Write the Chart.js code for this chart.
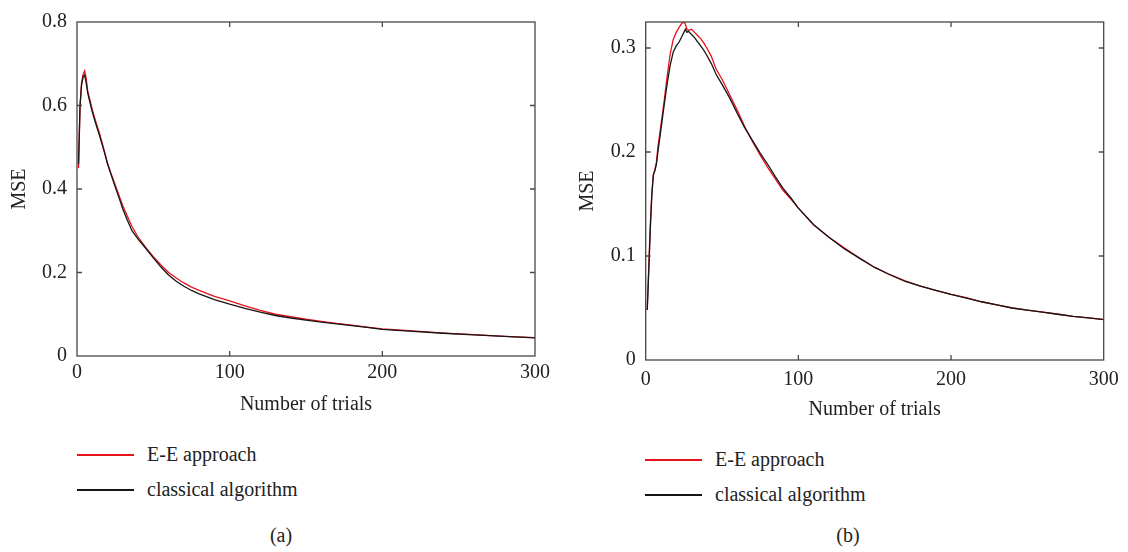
<!DOCTYPE html>
<html>
<head>
<meta charset="utf-8">
<script src="https://cdn.jsdelivr.net/npm/chart.js@4.4.1/dist/chart.umd.min.js"></script>
<style>
  html, body { margin: 0; padding: 0; background: #fff; }
  body { width: 1128px; height: 552px; position: relative; overflow: hidden; font-family: "Liberation Serif", "DejaVu Serif", serif; color: #222; }
  canvas { position: absolute; top: 0; }
  #cA { left: 0; }
  #cB { left: 568px; }
  .legend { position: absolute; font-size: 20px; }
  .legend .row { height: 35px; display: flex; align-items: center; white-space: nowrap; }
  .legend .ln { display: inline-block; width: 57px; height: 2px; margin-right: 13px; }
  .cap { position: absolute; font-size: 20px; transform: translate(-50%, -50%); }
</style>
</head>
<body>
<canvas id="cA" width="560" height="430"></canvas>
<canvas id="cB" width="560" height="430"></canvas>
<div class="legend" id="legA" style="left:77px; top:437px;"></div>
<div class="legend" id="legB" style="left:645px; top:442px;"></div>
<div class="cap" style="left:281px; top:535px;">(a)</div>
<div class="cap" style="left:848px; top:535px;">(b)</div>
<script>
// ---------- data ----------
const seriesNames = ["E-E approach", "classical algorithm"];
const xTicks = [0, 100, 200, 300];
const yTicksA = [0, 0.2, 0.4, 0.6, 0.8];
const yTicksB = [0, 0.1, 0.2, 0.3];

// panel (a)
const trialsA = [1, 2, 3, 4, 5, 6, 7, 8, 10, 12, 15, 18, 20, 22, 25, 28, 30, 33, 36, 40, 45, 50, 55, 60, 65, 70, 75, 80, 90, 100, 110, 120, 130, 140, 150, 160, 170, 180, 190, 200, 220, 240, 260, 280, 300];
const eeA = [0.45, 0.60, 0.655, 0.675, 0.683, 0.665, 0.635, 0.62, 0.59, 0.565, 0.53, 0.49, 0.462, 0.44, 0.41, 0.38, 0.36, 0.335, 0.31, 0.285, 0.26, 0.238, 0.218, 0.20, 0.187, 0.175, 0.165, 0.157, 0.143, 0.132, 0.12, 0.109, 0.10, 0.094, 0.088, 0.083, 0.078, 0.074, 0.069, 0.065, 0.06, 0.055, 0.051, 0.047, 0.044];
const classicalA = [0.46, 0.60, 0.65, 0.668, 0.673, 0.655, 0.63, 0.615, 0.585, 0.56, 0.525, 0.487, 0.46, 0.438, 0.405, 0.374, 0.352, 0.325, 0.30, 0.28, 0.258, 0.235, 0.213, 0.194, 0.179, 0.167, 0.157, 0.149, 0.135, 0.124, 0.114, 0.105, 0.097, 0.091, 0.086, 0.081, 0.077, 0.073, 0.0685, 0.064, 0.059, 0.0545, 0.0505, 0.047, 0.0435];

// panel (b)
const trialsB = [1, 2, 3, 4, 5, 6, 7, 8, 10, 12, 14, 16, 18, 20, 22, 24, 25, 26, 27, 28, 30, 32, 34, 36, 38, 40, 43, 46, 50, 55, 60, 65, 70, 75, 80, 85, 90, 95, 100, 110, 120, 130, 140, 150, 160, 170, 180, 190, 200, 210, 220, 230, 240, 250, 260, 270, 280, 290, 300];
const eeB = [0.048, 0.09, 0.13, 0.16, 0.178, 0.183, 0.19, 0.205, 0.226, 0.248, 0.272, 0.294, 0.308, 0.315, 0.32, 0.3245, 0.3245, 0.323, 0.318, 0.317, 0.318, 0.315, 0.312, 0.309, 0.305, 0.30, 0.292, 0.28, 0.27, 0.255, 0.24, 0.224, 0.21, 0.197, 0.185, 0.174, 0.163, 0.155, 0.146, 0.13, 0.118, 0.108, 0.098, 0.089, 0.082, 0.076, 0.071, 0.067, 0.063, 0.06, 0.056, 0.053, 0.05, 0.048, 0.046, 0.044, 0.042, 0.0405, 0.039];
const classicalB = [0.048, 0.085, 0.125, 0.158, 0.178, 0.182, 0.188, 0.20, 0.222, 0.244, 0.265, 0.283, 0.296, 0.302, 0.306, 0.312, 0.315, 0.318, 0.315, 0.316, 0.313, 0.31, 0.306, 0.302, 0.298, 0.293, 0.285, 0.275, 0.265, 0.252, 0.237, 0.223, 0.211, 0.199, 0.188, 0.176, 0.165, 0.156, 0.146, 0.13, 0.118, 0.107, 0.098, 0.089, 0.082, 0.0755, 0.071, 0.067, 0.063, 0.0595, 0.056, 0.053, 0.05, 0.048, 0.046, 0.044, 0.042, 0.0405, 0.0388];

// ---------- styling ----------
const FONT = "'Liberation Serif', 'DejaVu Serif', serif";
const RED = "#e8121c";
const BLACK = "#151515";
const FRAME = "#474747";

const framePlugin = {
  id: "frame",
  afterDatasetsDraw(chart) {
    const {ctx, chartArea: a, scales} = chart;
    ctx.save();
    ctx.strokeStyle = FRAME;
    ctx.lineWidth = 1.3;
    ctx.strokeRect(a.left, a.top, a.right - a.left, a.bottom - a.top);
    const L = 5;
    ctx.beginPath();
    scales.x.ticks.forEach(t => {
      const px = scales.x.getPixelForValue(t.value);
      if (Math.abs(px - a.left) < 1 || Math.abs(px - a.right) < 1) return;
      ctx.moveTo(px, a.bottom); ctx.lineTo(px, a.bottom - L);
      ctx.moveTo(px, a.top); ctx.lineTo(px, a.top + L);
    });
    scales.y.ticks.forEach(t => {
      const py = scales.y.getPixelForValue(t.value);
      if (Math.abs(py - a.bottom) < 1 || Math.abs(py - a.top) < 1) return;
      ctx.moveTo(a.left, py); ctx.lineTo(a.left + L, py);
      ctx.moveTo(a.right, py); ctx.lineTo(a.right - L, py);
    });
    ctx.stroke();
    ctx.restore();
  }
};

function pts(xs, ys) { return xs.map((x, i) => ({x: x, y: ys[i]})); }

function makeChart(id, xs, ee, cl, yMax, yTicks, geo) {
  const chart = new Chart(document.getElementById(id), {
    type: "line",
    data: {
      datasets: [
        { label: seriesNames[0], data: pts(xs, ee), borderColor: RED, borderWidth: 1.3, pointRadius: 0, tension: 0, order: 1 },
        { label: seriesNames[1], data: pts(xs, cl), borderColor: BLACK, borderWidth: 1.3, pointRadius: 0, tension: 0, order: 0 }
      ]
    },
    options: {
      responsive: false,
      animation: false,
      devicePixelRatio: 1,
      layout: { padding: { left: 0, top: geo.top, right: geo.right, bottom: 0 } },
      plugins: { legend: { display: false }, tooltip: { enabled: false } },
      scales: {
        x: {
          type: "linear", min: 0, max: 300,
          afterBuildTicks: s => { s.ticks = xTicks.map(v => ({value: v})); },
          afterFit: s => { s.height = geo.xh; },
          grid: { display: true, drawOnChartArea: false, drawTicks: false },
          border: { display: false },
          ticks: { color: "#222", padding: geo.xpad, font: { family: FONT, size: 20 } },
          title: { display: true, text: "Number of trials", color: "#222", padding: { top: 0, bottom: geo.tpad }, font: { family: FONT, size: 20 } }
        },
        y: {
          type: "linear", min: 0, max: yMax,
          afterBuildTicks: s => { s.ticks = yTicks.map(v => ({value: v})); },
          afterFit: s => { s.width = geo.yw; },
          grid: { display: true, drawOnChartArea: false, drawTicks: false },
          border: { display: false },
          ticks: { color: "#222", padding: 10, font: { family: FONT, size: 20 }, callback: v => String(+v.toFixed(2)) },
          title: { display: true, text: "MSE", color: "#222", padding: { top: 8, bottom: 0 }, font: { family: FONT, size: 20 } }
        }
      }
    },
    plugins: [framePlugin]
  });
  return chart;
}

function buildLegend(chart, elId) {
  const el = document.getElementById(elId);
  chart.data.datasets.forEach(ds => {
    const row = document.createElement("div");
    row.className = "row";
    const ln = document.createElement("span");
    ln.className = "ln";
    ln.style.backgroundColor = ds.borderColor;
    const tx = document.createElement("span");
    tx.textContent = ds.label;
    row.appendChild(ln); row.appendChild(tx);
    el.appendChild(row);
  });
}

const chartA = makeChart("cA", trialsA, eeA, classicalA, 0.8, yTicksA, { top: 12.7, right: 25, xh: 74, yw: 77, xpad: 5, tpad: 13 });
const chartB = makeChart("cB", trialsB, eeB, classicalB, 0.325, yTicksB, { top: 16, right: 24.3, xh: 70, yw: 77.7, xpad: 8, tpad: 8 });
buildLegend(chartA, "legA");
buildLegend(chartB, "legB");
</script>
</body>
</html>
